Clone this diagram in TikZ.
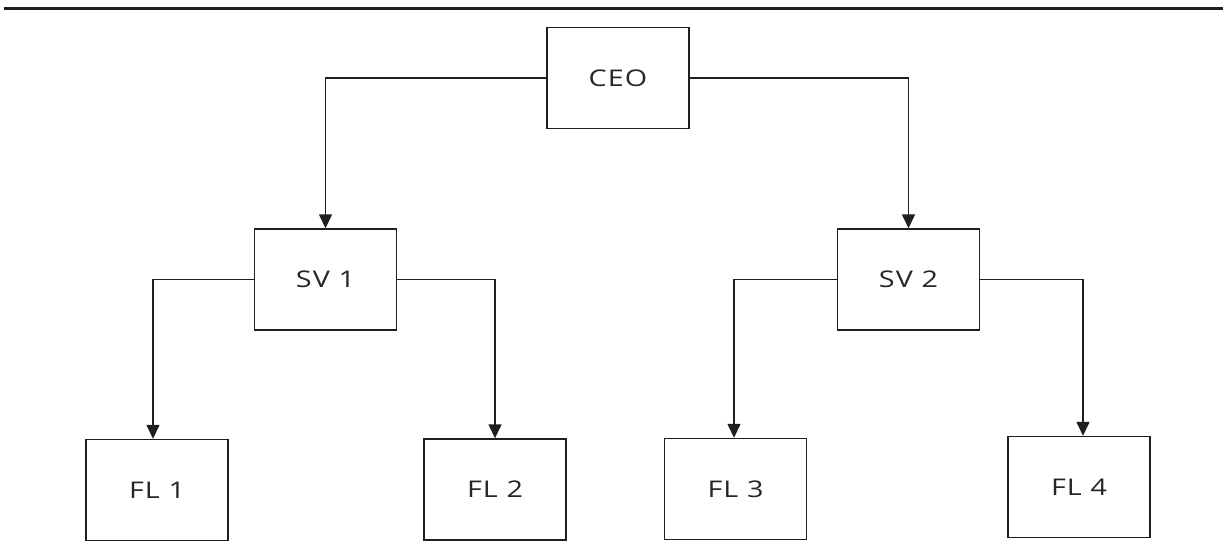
\documentclass[tikz,border=0pt]{standalone}
\usepackage{fontspec}
\setmainfont{Open Sans}[FakeStretch=1.25,LetterSpace=5]
\usetikzlibrary{arrows.meta}
\begin{document}
\begin{tikzpicture}[x=1pt,y=-1pt,
  unit/.style={draw=black!88,line width=1.4pt,minimum width=142pt,minimum height=101pt,
    inner sep=0pt,font=\fontsize{23}{26}\selectfont,text=black!85},
  link/.style={draw=black!88,line width=1.4pt,-{Triangle[length=14pt,width=13pt]}}]
\useasboundingbox (0,0) rectangle (1223,554);
\fill[white] (0,0) rectangle (1223,554);
% heading rule
\draw[line width=3pt,black!88] (4,8.5) -- (1223,8.5);
% organisation units
\node[unit] (ceo) at (618,78) {CEO};
\node[unit] (sv1) at (325.5,279.5) {SV 1};
\node[unit] (sv2) at (908.5,279.5) {SV 2};
\node[unit] (fl1) at (157,490) {FL 1};
\node[unit] (fl2) at (495,489.5) {FL 2};
\node[unit] (fl3) at (735.5,489) {FL 3};
\node[unit] (fl4) at (1079,487) {FL 4};
% reporting lines
\draw[link] (ceo.west) -| (sv1.north);
\draw[link] (ceo.east) -| (sv2.north);
\draw[link] (sv1.west) -| ([xshift=-4pt]fl1.north);
\draw[link] (sv1.east) -| (fl2.north);
\draw[link] (sv2.west) -| ([xshift=-1.5pt]fl3.north);
\draw[link] (sv2.east) -| ([xshift=4pt]fl4.north);
\end{tikzpicture}
\end{document}
